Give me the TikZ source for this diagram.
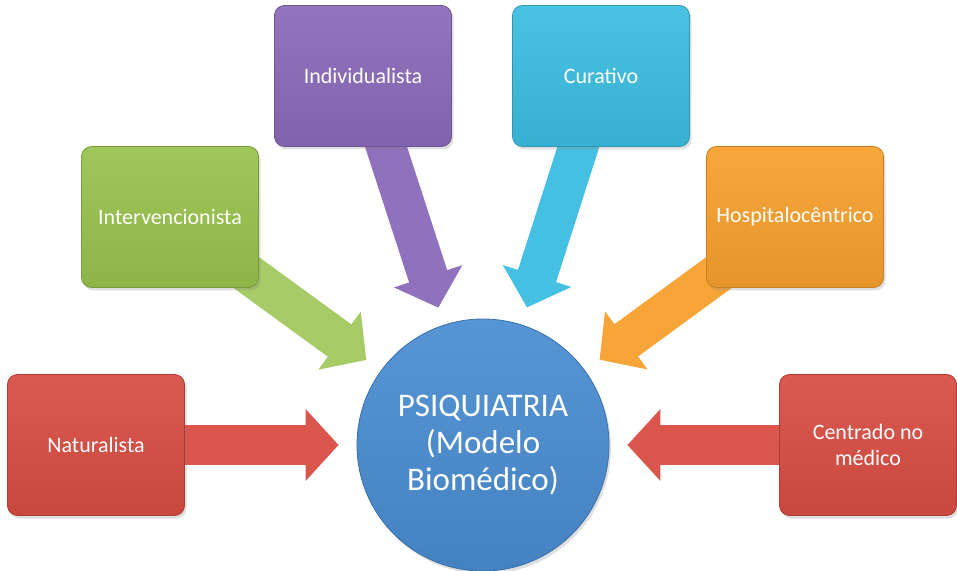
\documentclass[tikz,border=0pt]{standalone}
\usepackage{fontspec}
\setmainfont{Carlito}
\usepackage{tikz}
\usetikzlibrary{arrows.meta}
\usetikzlibrary{backgrounds}
\usetikzlibrary{shadows}
\definecolor{boxred}{HTML}{D84D43}
\definecolor{boxgreen}{HTML}{98C24C}
\definecolor{boxpurple}{HTML}{8A6ABA}
\definecolor{boxcyan}{HTML}{3CBDE0}
\definecolor{boxorange}{HTML}{F7A02E}
\definecolor{ballblue}{HTML}{4A8DD2}
\tikzset{
  box/.style = {rounded corners=5pt, minimum width=88.5pt, minimum height=70.5pt,
    inner sep=2pt, align=center, text=white, font=\fontsize{11}{13}\selectfont,
    draw=#1!80!black, top color=#1!93!white, bottom color=#1!93!black,
    drop shadow={opacity=0.25, shadow xshift=1pt, shadow yshift=-1.5pt}}
}
\tikzset{
  ball/.style = {circle, minimum size=126pt, inner sep=0pt, align=center,
    text=white, font=\fontsize{16.5}{18.5}\selectfont,
    draw=ballblue!80!black, top color=ballblue!93!white, bottom color=ballblue!92!black,
    drop shadow={opacity=0.25, shadow xshift=1pt, shadow yshift=-1.5pt}}
}
\tikzset{
  blockarrow/.style = {draw=#1, line width=20pt, shorten >=9pt,
    -{Triangle[length=16.5pt, width=35pt]}}
}
\begin{document}
\begin{tikzpicture}[x=0.5pt, y=-0.5pt]
  \useasboundingbox (0,0) rectangle (957,571);

  \node[ball] (psiq) at (483,445) {PSIQUIATRIA\\(Modelo\\Biomédico)};

  \node[box=boxred] (nat) at (96,445) {Naturalista};
  \node[box=boxgreen] (interv) at (170,217) {Intervencionista};
  \node[box=boxpurple] (indiv) at (363,76) {Individualista};
  \node[box=boxcyan] (cur) at (601,76) {Curativo};
  \node[box=boxorange] (hosp) at (795,217) {Hospitalocêntrico};
  \node[box=boxred] (cent) at (868,445) {Centrado no\\médico};

  \begin{scope}[on background layer]
    \draw[blockarrow=boxred!95!white] (nat.center) -- (psiq);
    \draw[blockarrow=boxgreen!85!white] (interv.center) -- (psiq);
    \draw[blockarrow=boxpurple!95!white] (indiv.center) -- (psiq);
    \draw[blockarrow=boxcyan!95!white] (cur.center) -- (psiq);
    \draw[blockarrow=boxorange!95!white] (hosp.center) -- (psiq);
    \draw[blockarrow=boxred!95!white] (cent.center) -- (psiq);
  \end{scope}
\end{tikzpicture}
\end{document}
